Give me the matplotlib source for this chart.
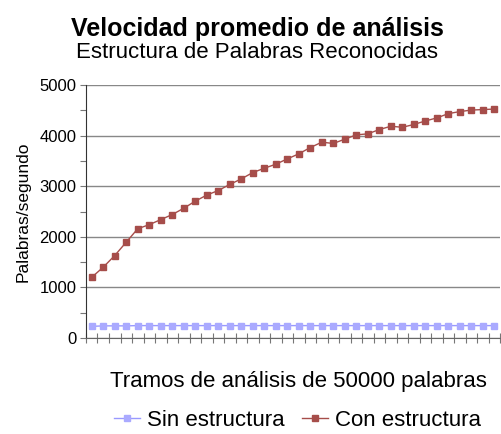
import matplotlib
matplotlib.use("Agg")
import matplotlib.pyplot as plt
import numpy as np
from matplotlib.ticker import MultipleLocator

plt.rcParams["font.family"] = ["Liberation Sans", "DejaVu Sans"]

tramos = np.arange(1, 37)
sin_estructura = [230, 240, 240, 240, 245, 245, 245, 245, 245, 245, 245, 245,
                  245, 245, 245, 245, 245, 245, 245, 245, 245, 245, 245, 245,
                  245, 245, 245, 245, 245, 245, 245, 245, 245, 245, 245, 245]
con_estructura = [1200, 1400, 1630, 1895, 2160, 2240, 2340, 2440, 2565, 2705, 2825, 2915,
                  3035, 3145, 3270, 3355, 3435, 3540, 3640, 3765, 3870, 3845, 3930, 4015,
                  4035, 4120, 4185, 4165, 4220, 4290, 4350, 4435, 4475, 4505, 4515, 4525]

fig = plt.figure(figsize=(5.02, 4.34), dpi=100)
ax = fig.add_axes([0.1713, 0.2212, 0.825, 0.5829])

ax.plot(tramos, sin_estructura, color="#9999FF", lw=1, marker="s", ms=4.6, mec="#AAAAFF", mfc="#AAAAFF",
        label="Sin estructura")
ax.plot(tramos, con_estructura, color="#A64D4A", lw=1, marker="s", ms=4.6, mec="#A64D4A", mfc="#A64D4A",
        label="Con estructura")

ax.set_xlim(0.5, 36.5); ax.set_ylim(0, 5000)
ax.yaxis.set_major_locator(MultipleLocator(1000)); ax.yaxis.set_minor_locator(MultipleLocator(500))
ax.set_xticks(np.arange(0.5, 37, 1)); ax.set_xticklabels([])
ax.tick_params(axis="x", direction="inout", length=7, width=0.8, color="#777777")
ax.tick_params(axis="y", which="both", direction="out", length=4, width=0.8, color="#777777", labelsize=12)
ax.tick_params(axis="y", which="major", pad=3)
ax.grid(axis="y", which="major", color="#888888", lw=1)
for s in ["top", "right"]:
    ax.spines[s].set_visible(False)
ax.spines["left"].set_color("#333333"); ax.spines["bottom"].set_color("#666666")
ax.set_axisbelow(True)

ax.set_ylabel("Palabras/segundo", fontsize=12.5, labelpad=6)
fig.text(0.594, 0.12, "Tramos de análisis de 50000 palabras", ha="center", va="center", fontsize=16)
fig.text(0.512, 0.933, "Velocidad promedio de análisis", ha="center", va="center", fontsize=18, fontweight="bold")
fig.text(0.512, 0.878, "Estructura de Palabras Reconocidas", ha="center", va="center", fontsize=16)
fig.legend(loc="center", bbox_to_anchor=(0.592, 0.032), ncol=2, frameon=False, fontsize=16, markerscale=0.8,
           handlelength=1.17, columnspacing=0.77, handletextpad=0.32, borderpad=0, borderaxespad=0)

fig.savefig("out.png")
